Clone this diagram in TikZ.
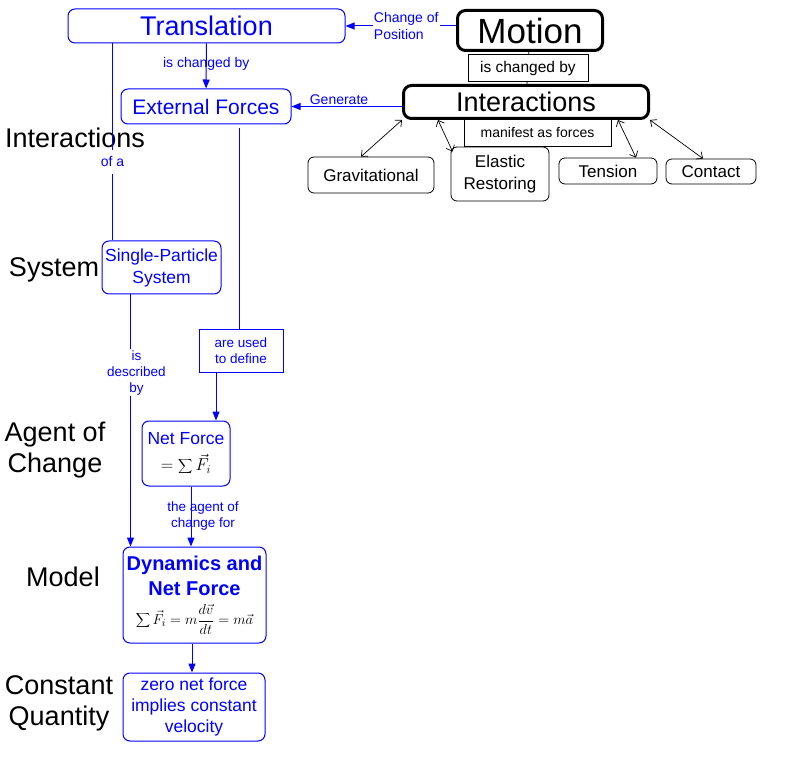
\documentclass[tikz,border=0pt]{standalone}
\usepackage{fontspec}
\setmainfont{Liberation Sans}
\usetikzlibrary{arrows.meta}

\tikzset{
  fs/.style 2 args={font=\fontsize{#1}{#2}\selectfont},
  bluebox/.style={draw=blue, line width=1pt, rounded corners=7pt, text=blue, align=center, inner sep=0pt},
  blackbox/.style={draw=black, line width=0.8pt, rounded corners=6pt, align=center, inner sep=0pt, fs={17}{22}},
  thickbox/.style={draw=black, line width=3pt, rounded corners=8pt, inner sep=0pt},
  tagbox/.style={draw=black, line width=0.8pt, fill=white, inner sep=0pt},
  bluelabel/.style={text=blue, align=center, inner sep=1pt},
  sidelabel/.style={align=center, fs={27}{31}},
  blueline/.style={draw=blue, line width=1pt},
  bluearrow/.style={draw=blue, line width=1pt, -{Triangle[length=9pt,width=7pt]}},
  dblarrow/.style={draw=black, line width=0.7pt, {Straight Barb[length=5pt,width=9pt]}-{Straight Barb[length=5pt,width=9pt]}},
}

\begin{document}
\begin{tikzpicture}[x=1pt, y=-1pt]
\useasboundingbox (0,0) rectangle (785,762);

% side headings
\node[sidelabel] (hinter) at (75,138) {Interactions};
\node[sidelabel] (hsys) at (54,270) {System};
\node[sidelabel] (hagent) at (55,450) {Agent of\\Change};
\node[sidelabel] (hmodel) at (63,577) {Model};
\node[sidelabel] (hconst) at (59,703) {Constant\\Quantity};

% top part
\node[bluebox, fs={27}{32}, minimum width=277, minimum height=34] (trans) at (206.5,26) {Translation};
\node[thickbox, fs={35}{40}, minimum width=145, minimum height=40] (motion) at (530,30.5) {Motion};
\node[tagbox, fs={14}{17}, minimum width=147, minimum height=28] (manifest) at (537.5,132) {manifest as forces};
\node[thickbox, fs={27}{32}, minimum width=245, minimum height=33] (inter) at (526,102) {Interactions};
\node[bluebox, fs={21}{25}, minimum width=170, minimum height=35] (ext) at (206,106.5) {External Forces};

% kinds of force
\node[blackbox, minimum width=126, minimum height=36] (grav) at (371,175) {Gravitational};
\node[blackbox, minimum width=98, minimum height=54] (elastic) at (500,174) {Elastic\\Restoring};
\node[blackbox, minimum width=98, minimum height=26] (tension) at (608,171) {Tension};
\node[blackbox, minimum width=90, minimum height=25] (contact) at (711,171.5) {Contact};

% left column
\node[bluebox, fs={17.5}{22}, minimum width=119, minimum height=53] (sps) at (161.5,267.5) {Single-Particle\\System};
\node[draw=blue, line width=0.8pt, text=blue, align=center, inner sep=0pt, fs={13.5}{16}, minimum width=84, minimum height=43] (define) at (241,350.5) {are used\\to define};
\node[bluebox, fs={17.5}{22}, minimum width=88, minimum height=65] (netf) at (186,453.5) {Net Force\\[4pt]{\color{black}\fontsize{17}{20}\selectfont$\displaystyle=\sum\vec F_i$}};
\node[bluebox, fs={20}{25}, minimum width=143, minimum height=96] (dyn) at (194.5,595) {\textbf{Dynamics and}\\\textbf{Net Force}\\[4pt]{\color{black}\fontsize{15}{17}\selectfont$\displaystyle\sum\vec F_i=m\frac{d\vec v}{dt}=m\vec a$}};
\node[bluebox, fs={17.5}{21}, minimum width=142, minimum height=68] (zero) at (194,707) {zero net force\\implies constant\\velocity};

% connectors
\draw[bluearrow] (motion.west |- trans.east) -- node[bluelabel, fill=white, align=left, pos=0.45, fs={14}{17}] {Change of\\Position} (trans.east);
\draw[line width=0.8pt] (motion) -- node[tagbox, fs={15.5}{18}, minimum width=120, minimum height=27] {is changed by} (inter);
\draw[bluearrow] (inter.west |- ext.east) -- node[bluelabel, above, pos=0.57, fs={14}{17}] {Generate} (ext.east);
\draw[bluearrow] (trans) -- node[bluelabel, pos=0.45, fs={14}{17}] {is changed by} (ext);

\draw[dblarrow] (inter.south west) -- ([xshift=-10]grav.north);
\draw[dblarrow] ([xshift=36]inter.south west) -- ([shift={(2,5)}]elastic.north west);
\draw[dblarrow] ([xshift=-32]inter.south east) -- ([xshift=28]tension.north);
\draw[dblarrow] (inter.south east) -- ([xshift=-8]contact.north);

\coordinate (t1) at ([xshift=45]trans.south west);
\draw[blueline] (t1) -- node[bluelabel, fill=white, pos=0.6, inner ysep=7pt, fs={14}{17}] {of a} (t1 |- sps.north);
\coordinate (s1) at ([xshift=29]sps.south west);
\draw[bluearrow] (s1) -- node[bluelabel, fill=white, pos=0.31, xshift=6, fs={13.5}{16}] {is\\described\\by} (s1 |- dyn.north);
\draw[blueline] ([shift={(33,4)}]ext.south) -- ([xshift=-2]define.north);
\draw[bluearrow] ([xshift=-25]define.south) -- ([xshift=30]netf.north);
\draw[bluearrow] ([xshift=5]netf.south) -- node[bluelabel, xshift=12, fs={13.5}{16}] {the agent of\\change for} ([xshift=-3.5]dyn.north);
\draw[bluearrow] ([xshift=-2.5]dyn.south) -- ([xshift=-2]zero.north);
\end{tikzpicture}
\end{document}
